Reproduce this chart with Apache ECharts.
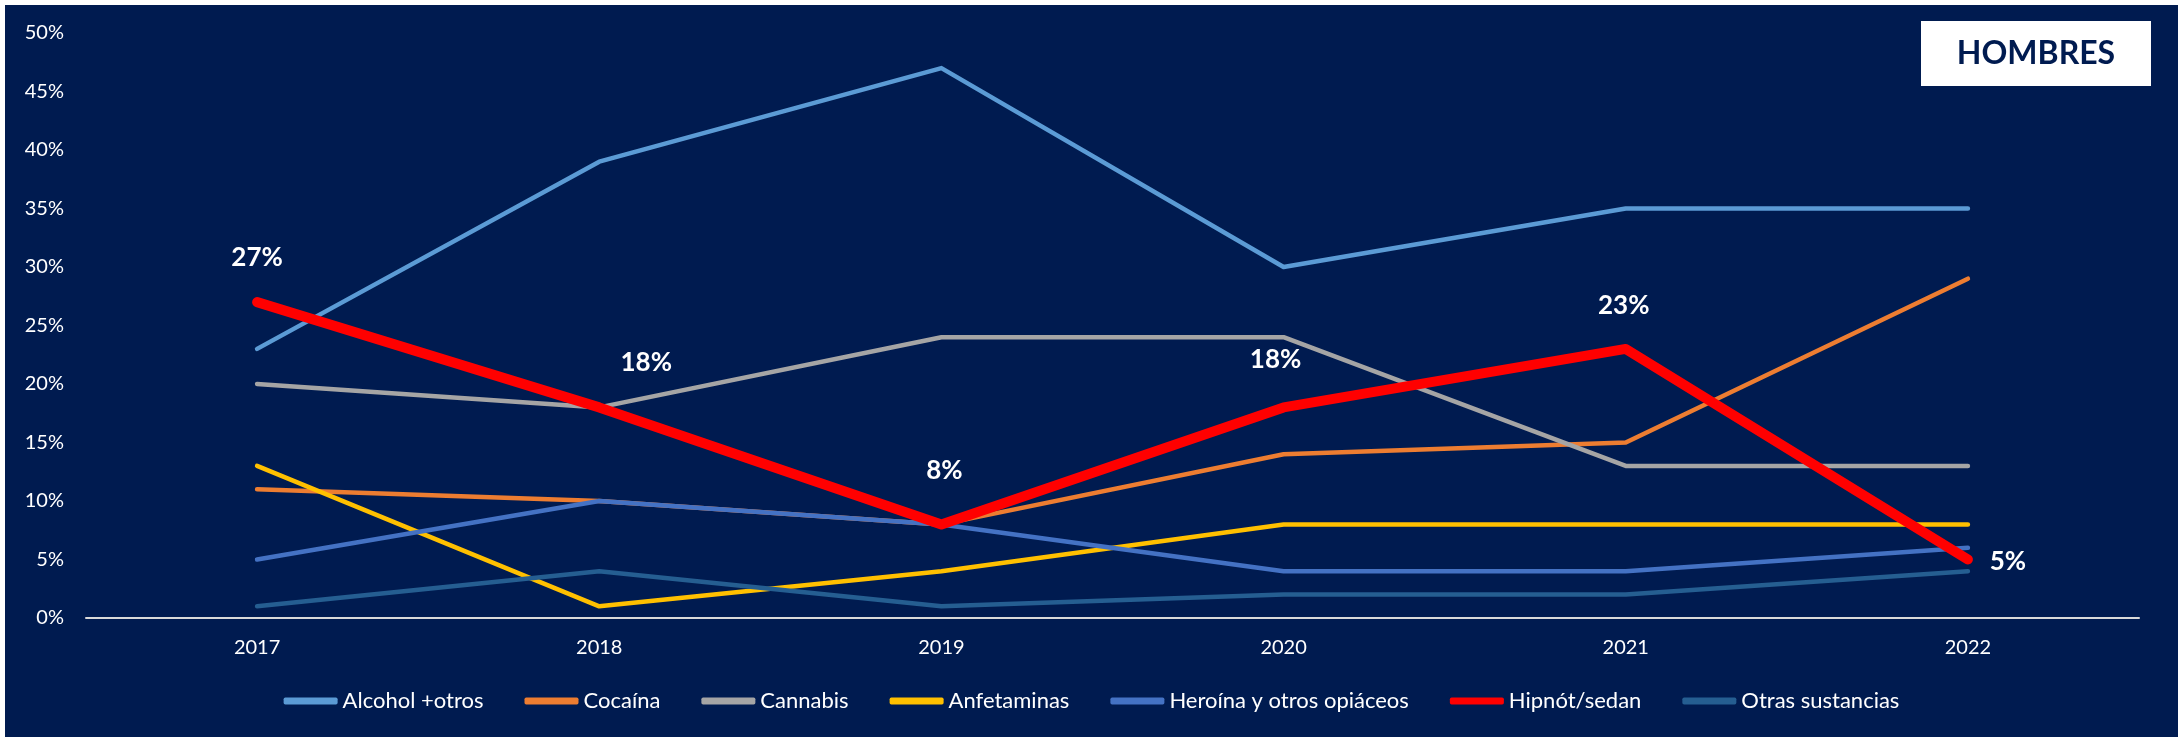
<!DOCTYPE html>
<html>
<head>
<meta charset="utf-8">
<script src="https://cdn.jsdelivr.net/npm/echarts@6/dist/echarts.min.js"></script>
<style>
  html, body { margin: 0; padding: 0; background: #ffffff; width: 2178px; height: 738px; overflow: hidden; }
  #chart { position: absolute; left: 5px; top: 5px; width: 2173px; height: 732px; }
</style>
</head>
<body>
<div id="chart"></div>
<script>
// ---- data ----
const years = ['2017', '2018', '2019', '2020', '2021', '2022'];
const seriesNames = ['Alcohol +otros', 'Cocaína', 'Cannabis', 'Anfetaminas', 'Heroína y otros opiáceos', 'Hipnót/sedan', 'Otras sustancias'];
const alcohol = [23, 39, 47, 30, 35, 35];
const cocaina = [11, 10, 8, 14, 15, 29];
const cannabis = [20, 18, 24, 24, 13, 13];
const anfetaminas = [13, 1, 4, 8, 8, 8];
const heroina = [5, 10, 8, 4, 4, 6];
const hipnot = [27, 18, 8, 18, 23, 5];
const otras = [1, 4, 1, 2, 2, 4];
const yTicks = { min: 0, max: 50, interval: 5 };
const panelTitle = 'HOMBRES';

// ---- styles ----
const NAVY = '#001B50';
const FONT = 'Lato, "Open Sans", sans-serif';
const colors = ['#5B9BD5', '#ED7D31', '#A5A5A5', '#FFC000', '#4472C4', '#FF0000', '#255E91'];
const widths = [4.5, 4.5, 4.5, 4.5, 4.5, 10, 4.5];
// label centre offsets (px) relative to each Hipnót point
const hipLabelOffsets = [[0, -44], [47, -45], [3, -54], [-8, -48], [-2, -43], [40, 2]];

const allData = [alcohol, cocaina, cannabis, anfetaminas, heroina, hipnot, otras];

const series = allData.map((vals, i) => {
  const isHip = i === 5;
  const s = {
    name: seriesNames[i],
    type: 'line',
    data: vals.map((v, j) => {
      if (!isHip) return v;
      return {
        value: v,
        label: { offset: hipLabelOffsets[j] }
      };
    }),
    showSymbol: isHip,
    symbol: 'circle',
    symbolSize: 1,
    itemStyle: { color: colors[i] },
    lineStyle: { color: colors[i], width: widths[i], cap: 'round', join: 'round' },
    emphasis: { disabled: true },
    animation: false,
    z: isHip ? 3 : 2
  };
  if (isHip) {
    s.label = {
      show: true,
      position: 'inside',
      formatter: p => p.value + '%',
      color: '#ffffff',
      fontFamily: FONT,
      fontWeight: 'bold',
      fontSize: 26
    };
  }
  return s;
});

const chart = echarts.init(document.getElementById('chart'));
chart.setOption({
  backgroundColor: NAVY,
  animation: false,
  grid: { left: 81, top: 28, width: 2053, height: 585, containLabel: false },
  xAxis: {
    type: 'category',
    data: years,
    boundaryGap: true,
    axisLine: { show: true, lineStyle: { color: '#D9D9D9', width: 2 } },
    axisTick: { show: false },
    axisLabel: { color: '#ffffff', fontFamily: FONT, fontSize: 20, margin: 20 },
    splitLine: { show: false }
  },
  yAxis: {
    type: 'value',
    min: yTicks.min,
    max: yTicks.max,
    interval: yTicks.interval,
    axisLine: { show: false },
    axisTick: { show: false },
    axisLabel: { color: '#ffffff', fontFamily: FONT, fontSize: 20, margin: 22, formatter: '{value}%' },
    splitLine: { show: false }
  },
  legend: {
    data: seriesNames.map((n, i) => ({ name: n, icon: 'roundRect', itemStyle: { color: colors[i] } })),
    top: 679,
    left: 'center',
    itemWidth: 54,
    itemHeight: 7,
    itemGap: 41,
    textStyle: { color: '#ffffff', fontFamily: FONT, fontSize: 22, lineHeight: 24 },
    selectedMode: false
  },
  graphic: [
    {
      type: 'rect',
      shape: { x: 1916, y: 16, width: 230, height: 65 },
      style: { fill: '#ffffff' },
      z: 10
    },
    {
      type: 'text',
      x: 2031, y: 49,
      style: {
        text: panelTitle,
        fill: NAVY,
        font: 'bold 32px ' + FONT,
        textAlign: 'center',
        textVerticalAlign: 'middle'
      },
      z: 11
    }
  ],
  series: series
});
</script>
</body>
</html>
